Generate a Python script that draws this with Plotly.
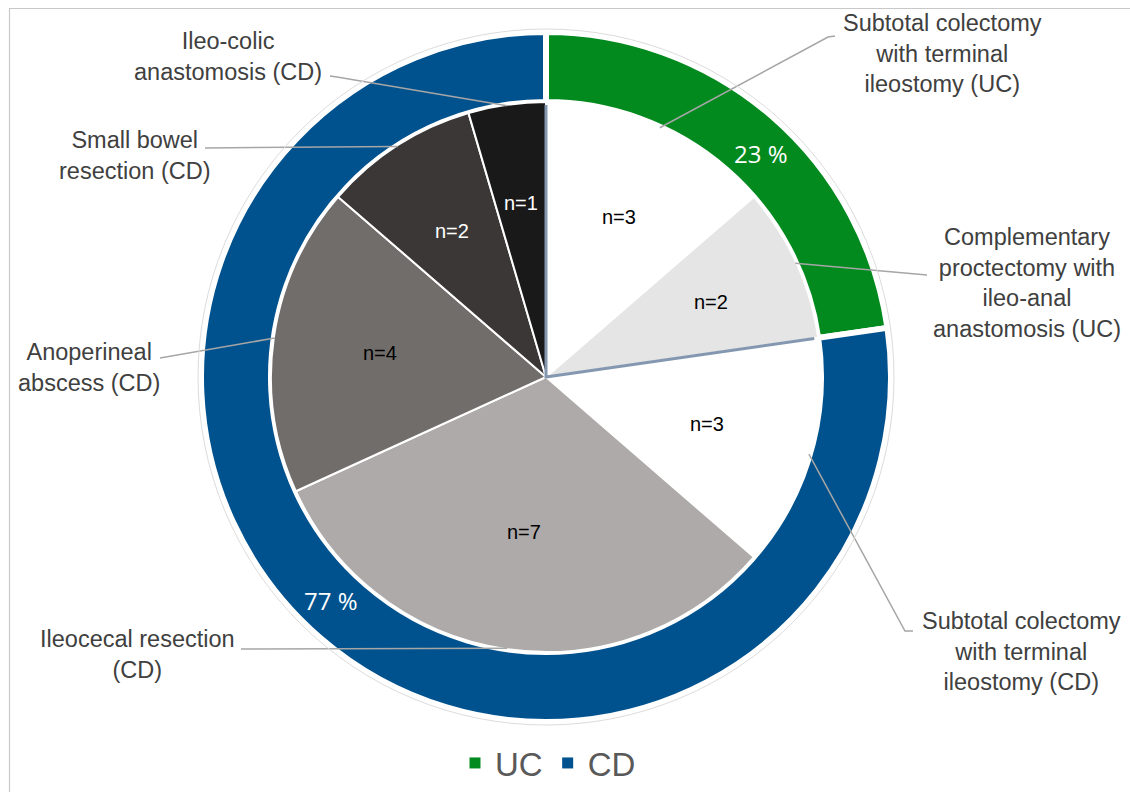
import math
import plotly.graph_objects as go

# ---- data -------------------------------------------------------------
groups = ["UC", "CD"]

procedures = [
    "Subtotal colectomy with terminal ileostomy (UC)",
    "Complementary proctectomy with ileo-anal anastomosis (UC)",
    "Subtotal colectomy with terminal ileostomy (CD)",
    "Ileocecal resection (CD)",
    "Anoperineal abscess (CD)",
    "Small bowel resection (CD)",
    "Ileo-colic anastomosis (CD)",
]
procedure_group = ["UC", "UC", "CD", "CD", "CD", "CD", "CD"]
procedure_counts = [3, 2, 3, 7, 4, 2, 1]

# text shown next to each procedure slice
procedure_text = [
    "Subtotal colectomy<br>with terminal<br>ileostomy (UC)",
    "Complementary<br>proctectomy with<br>ileo-anal<br>anastomosis (UC)",
    "Subtotal colectomy<br>with terminal<br>ileostomy (CD)",
    "Ileocecal resection<br>(CD)",
    "Anoperineal<br>abscess (CD)",
    "Small bowel<br>resection (CD)",
    "Ileo-colic<br>anastomosis (CD)",
]

group_counts = [
    sum(c for c, g in zip(procedure_counts, procedure_group) if g == grp)
    for grp in groups
]
total = sum(procedure_counts)
group_pct = [round(100 * c / total) for c in group_counts]

# ---- style ------------------------------------------------------------
W, H = 1130, 792
CX, CY = 546, 377          # pie centre (px)
R_OUT, R_IN = 345, 275     # ring outer radius / inner pie radius (px)

group_colors = ["#028A1E", "#00528E"]
procedure_colors = ["#FFFFFF", "#E5E5E5", "#FFFFFF", "#AEAAA9",
                    "#716D6B", "#3A3736", "#1A1919"]
count_text_colors = ["#000000", "#000000", "#000000", "#000000",
                     "#000000", "#FFFFFF", "#FFFFFF"]
count_label_radius = [0.64, 0.66, 0.61, 0.57, 0.61, 0.63, 0.64]
pct_label_radius = 310
pct_label_shift = 3        # degrees clockwise from slice middle

# label block centres and leader-line start points (px)
label_pos = [(942, 53), (1027, 283), (1021, 651), (137, 654),
             (89, 367), (134, 155), (228, 56)]
leader_start = [
    [(835, 36), (828, 37)],
    [(927, 275)],
    [(913, 631), (905, 631)],
    [(241, 649)],
    [(160, 358)],
    [(205, 148)],
    [(330, 76), (337, 77)],
]

TEXT_FONT = "Liberation Sans, Arial, sans-serif"
LABEL_COLOR = "#404040"


def px(x):
    return x / W


def py(y):
    return 1 - y / H


def polar(angle_deg, r):
    a = math.radians(angle_deg)
    return CX + r * math.sin(a), CY - r * math.cos(a)


def domain(r):
    return dict(x=[px(CX - r), px(CX + r)], y=[py(CY + r), py(CY - r)])


# ---- traces -----------------------------------------------------------
fig = go.Figure()

fig.add_trace(go.Pie(
    labels=groups,
    values=group_counts,
    hole=R_IN / R_OUT,
    domain=domain(R_OUT),
    sort=False,
    direction="clockwise",
    rotation=0,
    marker=dict(colors=group_colors, line=dict(color="white", width=6)),
    textinfo="none",
    hoverinfo="label+value",
    showlegend=False,
))

fig.add_trace(go.Pie(
    labels=procedures,
    values=procedure_counts,
    domain=domain(R_IN),
    sort=False,
    direction="clockwise",
    rotation=0,
    marker=dict(colors=procedure_colors, line=dict(color="white", width=2)),
    textinfo="none",
    hoverinfo="label+value",
    showlegend=False,
))

# legend entries for the two disease groups
for name, color in zip(groups, group_colors):
    fig.add_trace(go.Scatter(
        x=[None], y=[None], mode="markers", name=name,
        marker=dict(symbol="square", size=11, color=color),
        hoverinfo="skip", showlegend=True,
    ))

# ---- annotations and leader lines --------------------------------------
annotations = []
shapes = []

# group percentages on the ring
cum = 0
for v, pct in zip(group_counts, group_pct):
    mid = (cum + v / 2) / total * 360 + pct_label_shift
    cum += v
    lx, ly = polar(mid, pct_label_radius)
    annotations.append(dict(
        x=px(lx), y=py(ly), xref="paper", yref="paper",
        text=f"{pct} %", showarrow=False,
        font=dict(family="Open Sans, sans-serif", size=24, color="white"),
        xanchor="center", yanchor="middle",
    ))

cum = 0
for i, v in enumerate(procedure_counts):
    a0 = cum / total * 360
    a1 = (cum + v) / total * 360
    mid = (a0 + a1) / 2
    cum += v

    # count label inside the slice
    lx, ly = polar(mid, count_label_radius[i] * R_IN)
    annotations.append(dict(
        x=px(lx), y=py(ly), xref="paper", yref="paper",
        text=f"n={v}", showarrow=False,
        font=dict(family=TEXT_FONT, size=20, color=count_text_colors[i]),
        xanchor="center", yanchor="middle",
    ))

    # procedure name outside the chart
    tx, ty = label_pos[i]
    annotations.append(dict(
        x=px(tx), y=py(ty), xref="paper", yref="paper",
        text=procedure_text[i], showarrow=False, align="center",
        font=dict(family=TEXT_FONT, size=23.5, color=LABEL_COLOR),
        xanchor="center", yanchor="middle",
    ))

    # leader line from the name to the slice edge
    ex, ey = polar(mid, R_IN - 1)
    pts = leader_start[i] + [(ex, ey)]
    path = "M " + " L ".join(f"{px(x):.5f},{py(y):.5f}" for x, y in pts)
    shapes.append(dict(type="path", xref="paper", yref="paper", path=path,
                       line=dict(color="#A6A6A6", width=1.5)))

# separator between UC and CD procedures in the inner pie
split_angle = group_counts[0] / total * 360
sx0, sy0 = polar(0, R_IN - 3)
sx1, sy1 = polar(split_angle, R_IN - 4)
shapes.append(dict(
    type="path", xref="paper", yref="paper",
    path=f"M {px(sx0):.5f},{py(sy0):.5f} L {px(CX):.5f},{py(CY):.5f} "
         f"L {px(sx1):.5f},{py(sy1):.5f}",
    line=dict(color="#8497B0", width=3),
))

# thin outline around the ring
shapes.append(dict(
    type="circle", xref="paper", yref="paper",
    x0=px(CX - R_OUT - 3), x1=px(CX + R_OUT + 3),
    y0=py(CY + R_OUT + 3), y1=py(CY - R_OUT - 3),
    line=dict(color="#DCDCDC", width=1),
))

# frame around the chart area
shapes.append(dict(
    type="rect", xref="paper", yref="paper",
    x0=px(9.5), x1=px(W + 10), y0=py(H + 10), y1=py(8.5),
    line=dict(color="#C8C8C8", width=1.2),
))

fig.update_layout(
    width=W, height=H,
    margin=dict(l=0, r=0, t=0, b=0),
    paper_bgcolor="white",
    plot_bgcolor="white",
    xaxis=dict(visible=False),
    yaxis=dict(visible=False),
    annotations=annotations,
    shapes=shapes,
    legend=dict(
        orientation="h",
        x=px(CX + 2), xanchor="center",
        y=py(763), yanchor="middle",
        font=dict(family=TEXT_FONT, size=33, color="#595959"),
        bgcolor="rgba(0,0,0,0)",
    ),
)

fig.write_html("out.html")
